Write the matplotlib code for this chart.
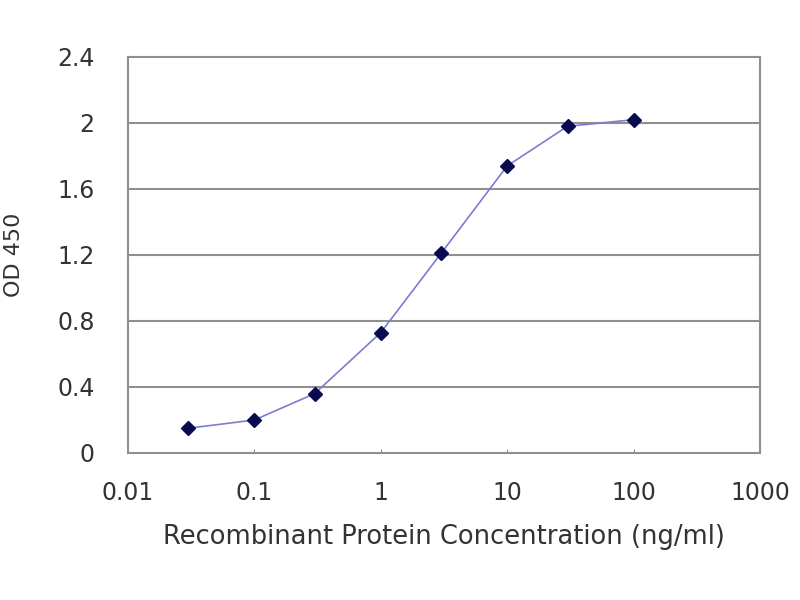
import matplotlib
matplotlib.use("Agg")
import matplotlib.pyplot as plt
from matplotlib.ticker import FixedLocator, FixedFormatter

# concentration (ng/ml) vs OD 450
conc = [0.03, 0.1, 0.3, 1, 3, 10, 30, 100]
od = [0.15, 0.20, 0.36, 0.73, 1.21, 1.74, 1.98, 2.02]

xticks = [0.01, 0.1, 1, 10, 100, 1000]
xtick_labels = ['0.01', '0.1', '1', '10', '100', '1000']
yticks = [0, 0.4, 0.8, 1.2, 1.6, 2, 2.4]
ytick_labels = ['0', '0.4', '0.8', '1.2', '1.6', '2', '2.4']

plt.rcParams['font.family'] = ['DejaVu Sans']
txt = '#333333'

fig = plt.figure(figsize=(8, 6), dpi=100)
ax = fig.add_axes([0.16, 0.245, 0.79, 0.66])

ax.plot(conc, od, color='#7c7cd0', lw=1.2, zorder=2)
ax.plot(conc, od, ls='none', marker='D', ms=7, color='#0a0a50', zorder=3)

ax.set_xscale('log')
ax.set_xlim(0.01, 1000)
ax.set_ylim(0, 2.4)
ax.xaxis.set_major_locator(FixedLocator(xticks))
ax.xaxis.set_major_formatter(FixedFormatter(xtick_labels))
ax.xaxis.set_minor_locator(FixedLocator([]))
ax.yaxis.set_major_locator(FixedLocator(yticks))
ax.yaxis.set_major_formatter(FixedFormatter(ytick_labels))

for y in yticks[1:-1]:
    ax.axhline(y, color='#8f8f8f', lw=1.5, zorder=1)

for s in ax.spines.values():
    s.set_color('#8f8f8f')
    s.set_linewidth(1.5)

ax.tick_params(axis='x', length=3, color='#8f8f8f', labelsize=17, labelcolor=txt, pad=20, direction='in')
ax.tick_params(axis='y', length=0, labelsize=17, labelcolor=txt, pad=24)

ax.set_xlabel('Recombinant Protein Concentration (ng/ml)', fontsize=18.5, color=txt, labelpad=14)
ax.set_ylabel('OD 450', fontsize=16, color=txt, labelpad=24)

fig.savefig('out.png', dpi=100)
